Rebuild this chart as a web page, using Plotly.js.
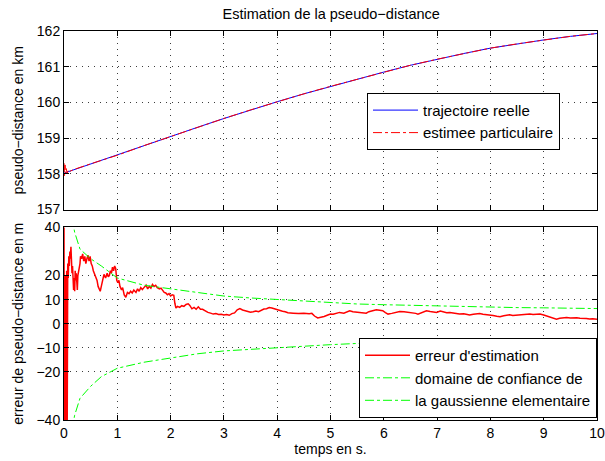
<!DOCTYPE html>
<html>
<head>
<meta charset="utf-8">
<script src="https://cdn.plot.ly/plotly-3.0.1.min.js"></script>
<style>html,body{margin:0;padding:0;background:#fff;}#chart{width:605px;height:461px;}</style>
</head>
<body>
<div id="chart"></div>
<script>
// ---- top panel: pseudo-distance (km)
const trajT = [0,0.5,1,1.5,2,2.5,3,3.5,4,4.5,5,5.5,6,6.5,7,7.5,8,8.5,9,9.5,10];
const trajKm = [158.02,158.28,158.52,158.79,159.05,159.30,159.55,159.79,160.02,160.24,160.45,160.65,160.85,161.04,161.21,161.37,161.52,161.64,161.75,161.85,161.93];
const estT = [0,0.01,0.02,0.03,0.04,0.06,0.08,0.1,0.15,0.2,0.5,1,1.5,2,2.5,3,3.5,4,4.5,5,5.5,6,6.5,7,7.5,8,8.5,9,9.5,10];
const estKm = [158.3,157.95,158.25,158.0,158.15,158.02,158.1,158.06,158.1,158.13,158.28,158.52,158.79,159.05,159.30,159.55,159.79,160.02,160.24,160.45,160.65,160.85,161.04,161.21,161.37,161.52,161.64,161.75,161.85,161.93];

// ---- bottom panel: estimation error (m)
const errT = [0,0.005,0.02,0.03,0.04,0.05,0.06,0.07,0.08,0.09,0.1,0.11,0.12,0.13,0.14,0.15,0.16,0.17,0.18,0.19,0.2,0.21,0.22,0.23,0.24,0.25,0.26,0.28,0.3,0.31,0.33,0.35,0.37,0.39,0.41,0.43,0.45,0.47,0.49,0.51,0.53,0.55,0.57,0.6,0.62,0.64,0.66,0.68,0.7,0.72,0.75,0.78,0.81,0.83,0.85,0.87,0.89,0.91,0.93,0.95,0.97,0.99,1.01,1.03,1.05,1.08,1.1,1.13,1.16,1.19,1.22,1.25,1.28,1.31,1.35,1.38,1.41,1.44,1.47,1.5,1.54,1.57,1.6,1.63,1.66,1.69,1.72,1.75,1.79,1.82,1.85,1.88,1.91,1.94,1.97,2.0,2.03,2.06,2.08,2.1,2.13,2.17,2.21,2.25,2.29,2.33,2.36,2.4,2.44,2.48,2.52,2.56,2.6,2.65,2.7,2.75,2.8,2.85,2.9,2.95,3.0,3.05,3.1,3.15,3.2,3.25,3.3,3.35,3.4,3.45,3.5,3.55,3.6,3.65,3.7,3.75,3.8,3.85,3.9,3.95,4.0,4.05,4.1,4.15,4.2,4.3,4.4,4.5,4.6,4.65,4.7,4.76,4.82,4.88,4.95,5.0,5.05,5.1,5.17,5.25,5.3,5.36,5.42,5.48,5.54,5.6,5.67,5.72,5.78,5.86,5.92,5.98,6.03,6.08,6.15,6.22,6.3,6.38,6.45,6.55,6.6,6.64,6.7,6.76,6.8,6.87,6.93,6.99,7.06,7.12,7.18,7.24,7.3,7.36,7.42,7.5,7.56,7.61,7.68,7.74,7.8,7.86,7.92,7.99,8.05,8.12,8.18,8.25,8.3,8.36,8.42,8.48,8.55,8.62,8.68,8.74,8.8,8.86,8.93,9.0,9.06,9.12,9.18,9.24,9.3,9.36,9.43,9.5,9.56,9.62,9.68,9.74,9.8,9.86,9.92,10.0];
const errM = [45,-45,-45,20,-45,22,-45,25,19,28,24,30,27,32,26,21,24,17,14,19,13.5,22,18,21,15,14,20,22,25,28,27,29,26,28,25,27,28.5,26,28,25,24,22,21,19.5,18,15.5,14,13.5,15.5,18,20.5,19,21,19.5,20,22,21,23.5,22,24,23,18,17,18,15.5,14,15,12,11,13,12.5,13.5,12.8,14,13,14.5,13.5,15,14.2,15,16,14.5,15.5,14.8,16.3,15.5,16,15,14.5,14.8,13.8,13,12.8,12,12.5,11.5,12,11.8,8.5,6.5,7.2,6.8,7.5,7.2,8,8.3,7.6,6.2,6.8,6,7,6,6,5.2,4.7,4.4,4,4.2,3.8,3.9,3.6,3.8,3.5,4.2,4.5,5.8,6.3,5.7,5.5,5.2,4.8,5,5.3,5,5.6,6.1,6.2,6.7,6.5,6.1,5.9,5.4,5.2,5.0,4.6,4.4,4.2,4.4,4.1,4.3,3.2,2.4,2.6,3.0,3.6,4.0,3.9,4.3,4.7,4.4,5.0,5.4,5.0,4.9,4.7,4.5,4.4,5.0,5.4,5.8,5.6,5.4,4.6,4.0,4.3,4.8,5.1,5.0,4.8,4.7,4.3,4.0,4.6,5.0,5.4,5.1,4.8,4.7,5.3,4.9,4.6,4.7,4.5,4.2,4.0,4.1,3.8,3.6,3.9,4.0,4.2,3.9,3.8,3.7,3.4,3.1,2.9,3.3,3.6,3.7,3.4,3.5,3.6,3.9,4.0,4.0,3.8,3.9,4.0,3.6,3.1,2.6,2.2,1.9,2.3,2.5,2.6,2.4,2.6,2.5,2.3,2.4,2.2,2.0,2.1,1.9];
const bandT = [0.15,0.2,0.3,0.5,0.7,1.0,1.5,2,2.5,3,3.5,4,4.5,5,5.5,6,6.5,7,7.5,8,8.5,9,9.5,10];
const bandUpper = [44,38,31,27,24,19,16,14.5,12.8,11.5,10.7,10.1,9.4,8.7,8.2,7.9,7.6,7.3,7.1,6.9,6.7,6.6,6.4,6.3];
const bandLower = [-44,-38,-31,-26,-22,-18.5,-16,-14.2,-12.5,-11.3,-10.6,-10,-9.3,-8.7,-8.2,-7.8,-7.5,-7.3,-7.1,-6.9,-6.7,-6.6,-6.4,-6.3];

const xTicks = [0,1,2,3,4,5,6,7,8,9,10];
const yTopTicks = [157,158,159,160,161,162];
const yBotTicks = [-40,-20,-10,0,10,20,40];

const FONT = 'Liberation Sans, Arial, sans-serif';

const traces = [
  {x: trajT, y: trajKm, type: 'scatter', mode: 'lines', name: 'trajectoire reelle',
   line: {color: 'rgb(0,0,255)', width: 1}, xaxis: 'x', yaxis: 'y', legend: 'legend'},
  {x: estT, y: estKm, type: 'scatter', mode: 'lines', name: 'estimee particulaire',
   line: {color: 'rgb(255,0,0)', width: 1, dash: 'dashdot'}, xaxis: 'x', yaxis: 'y', legend: 'legend'},
  {x: errT, y: errM, type: 'scatter', mode: 'lines', name: "erreur d'estimation",
   line: {color: 'rgb(255,0,0)', width: 1.5}, xaxis: 'x2', yaxis: 'y2', legend: 'legend2'},
  {x: bandT, y: bandUpper, type: 'scatter', mode: 'lines', name: 'domaine de confiance de',
   line: {color: 'rgb(0,255,0)', width: 1, dash: 'dashdot'}, xaxis: 'x2', yaxis: 'y2', legend: 'legend2'},
  {x: bandT, y: bandLower, type: 'scatter', mode: 'lines', name: 'la gaussienne elementaire',
   line: {color: 'rgb(0,255,0)', width: 1, dash: 'dashdot'}, xaxis: 'x2', yaxis: 'y2', legend: 'legend2'}
];

const axisCommon = {
  showline: true, linecolor: '#000', linewidth: 1, mirror: 'ticks',
  ticks: 'inside', ticklen: 5, tickcolor: '#000',
  showgrid: true, gridcolor: 'rgb(60,60,60)', gridwidth: 1, griddash: '1px,5px',
  zeroline: false, tickfont: {family: FONT, size: 14, color: '#000'}
};

const layout = {
  width: 605, height: 461,
  margin: {l: 64, r: 8, t: 31, b: 41},
  paper_bgcolor: '#fff', plot_bgcolor: '#fff',
  font: {family: FONT, size: 14, color: '#000'},
  title: {text: 'Estimation de la pseudo−distance', font: {family: FONT, size: 14.5, color: '#000'},
          x: 0.5475, xanchor: 'center', y: 0.969, yanchor: 'middle'},
  showlegend: true,
  xaxis: Object.assign({}, axisCommon, {domain: [0,1], range: [0,10], tickvals: xTicks, showticklabels: false, anchor: 'y'}),
  yaxis: Object.assign({}, axisCommon, {domain: [0.541,1], range: [157,162], tickvals: yTopTicks, anchor: 'x',
    title: {text: 'pseudo−distance en km', font: {family: FONT, size: 14}, standoff: 9}}),
  xaxis2: Object.assign({}, axisCommon, {domain: [0,1], range: [0,10], tickvals: xTicks, anchor: 'y2',
    title: {text: 'temps en s.', font: {family: FONT, size: 14}, standoff: 0}}),
  yaxis2: Object.assign({}, axisCommon, {domain: [0,0.495], range: [-40,40], tickvals: yBotTicks, anchor: 'x2',
    title: {text: 'erreur de pseudo−distance en m', font: {family: FONT, size: 14}, standoff: 9}}),
  legend: {x: 0.5685, xanchor: 'left', y: 0.841, yanchor: 'top', bgcolor: '#fff', itemwidth: 45,
    bordercolor: '#000', borderwidth: 1, font: {family: FONT, size: 15}, tracegroupgap: 0},
  legend2: {x: 1, xanchor: 'right', y: 0.005, yanchor: 'bottom', bgcolor: '#fff', itemwidth: 45,
    bordercolor: '#000', borderwidth: 1, font: {family: FONT, size: 15}, tracegroupgap: 0}
};

Plotly.newPlot('chart', traces, layout, {displayModeBar: false, staticPlot: true});
</script>
</body>
</html>
